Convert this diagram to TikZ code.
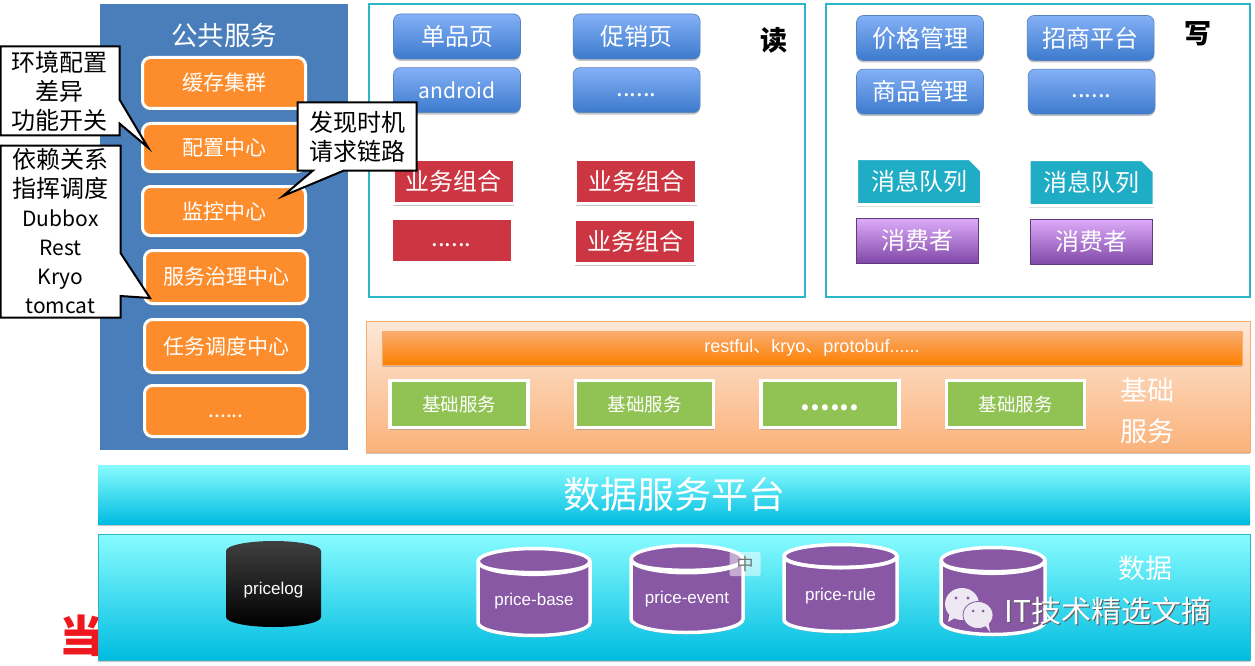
\documentclass[tikz,border=0pt]{standalone}
\usepackage{fontspec}
\setmainfont{Noto Sans CJK SC}
\newfontfamily\arialfont{Liberation Sans}
\definecolor{PanelBlue}{RGB}{74,126,187}
\definecolor{CardOrange}{RGB}{253,141,44}
\definecolor{FrameTeal}{RGB}{47,181,201}
\definecolor{BlueTop}{RGB}{132,176,246}
\definecolor{BlueBot}{RGB}{60,122,205}
\definecolor{BlueEdge}{RGB}{88,130,190}
\definecolor{CardRed}{RGB}{204,54,66}
\definecolor{QueueTeal}{RGB}{31,172,197}
\definecolor{VioletTop}{RGB}{222,172,250}
\definecolor{VioletBot}{RGB}{128,72,168}
\definecolor{VioletEdge}{RGB}{96,58,122}
\definecolor{PeachTop}{RGB}{254,232,216}
\definecolor{PeachBot}{RGB}{250,178,122}
\definecolor{PeachEdge}{RGB}{246,170,110}
\definecolor{BarTop}{RGB}{248,172,112}
\definecolor{BarBot}{RGB}{255,128,0}
\definecolor{CardGreen}{RGB}{145,195,84}
\definecolor{AquaTop}{RGB}{136,252,255}
\definecolor{AquaBot}{RGB}{0,188,224}
\definecolor{CanPurple}{RGB}{136,88,164}
\definecolor{LogoRed}{RGB}{238,24,30}
\definecolor{ChatLight}{RGB}{238,232,243}
\usetikzlibrary{positioning,calc,shapes.geometric,shapes.misc,shapes.callouts,shadows}
\newcommand{\lowdots}{\smash{\raisebox{-6pt}{......}}}
\newcommand{\cantext}[1]{\smash{\raisebox{-4pt}{#1}}}
\newcommand{\latinline}[1]{{\fontsize{21}{29}\selectfont #1}}
\tikzset{
  softshadow/.style={drop shadow={shadow xshift=0pt,shadow yshift=-2pt,opacity=.45}},
  px/.style={font=\fontsize{#1}{#1}\selectfont},
  orangecard/.style={draw=white,line width=3pt,fill=CardOrange,rounded corners=8pt,text=white,px=21,minimum width=163pt,softshadow},
  bluecard/.style={draw=BlueEdge,line width=.6pt,top color=BlueTop,bottom color=BlueBot,rounded corners=7pt,text=white,px=24,minimum width=127pt,minimum height=45pt,softshadow},
  redcard/.style={draw=white,line width=3pt,fill=CardRed,text=white,px=24,minimum width=121pt,minimum height=44pt,softshadow},
  queuecard/.style={chamfered rectangle,chamfered rectangle corners=north east,chamfered rectangle xsep=6pt,chamfered rectangle ysep=6pt,draw=white,line width=3pt,fill=QueueTeal,text=white,px=24,minimum width=125pt,minimum height=46pt,softshadow},
  violetcard/.style={draw=VioletEdge,line width=.6pt,top color=VioletTop,bottom color=VioletBot,text=white,px=24,minimum width=122pt,minimum height=45pt},
  greencard/.style={draw=white,line width=3.5pt,fill=CardGreen,text=white,px=18.5,minimum width=138pt,minimum height=47pt,softshadow},
  frame/.style={draw=FrameTeal,line width=2.4pt,fill=white},
  balloon/.style={rectangle callout,draw=black,line width=2pt,fill=white,align=center,inner sep=0pt,font=\fontsize{24}{29}\selectfont},
  can/.style={cylinder,anchor=shape center,shape border rotate=90,aspect=.3,draw=white,line width=3.5pt,fill=CanPurple,cylinder uses custom fill,cylinder body fill=CanPurple,cylinder end fill=CanPurple,text=white,font=\arialfont\fontsize{17}{20}\selectfont,minimum width=112pt,minimum height=87pt,softshadow},
}
\begin{document}
\begin{tikzpicture}[x=1pt,y=-1pt]
  \useasboundingbox (0,0) rectangle (1255,666);
  % shared services column
  \node[draw=white,line width=3.5pt,fill=PanelBlue,minimum width=251pt,minimum height=450pt,softshadow] (common) at (224,227) {};
  \node[text=white,px=26.5] (commontitle) at (224,35) {公共服务};
  \node[orangecard,minimum height=51pt] (cache) at (224,83) {缓存集群};
  \node[orangecard,minimum height=48pt,below=12pt of cache] (config) {配置中心};
  \node[orangecard,minimum height=49pt,below=12pt of config] (monitor) {监控中心};
  \node[orangecard,minimum height=53pt,below=12pt of monitor,xshift=2pt] (govern) {服务治理中心};
  \node[orangecard,minimum height=53pt,below=13pt of govern] (sched) {任务调度中心};
  \node[orangecard,minimum height=51pt,below=10pt of sched] (moreorange) {\lowdots};
  % read side
  \node[frame,minimum width=436pt,minimum height=293pt] (readbox) at (587,150.5) {};
  \node[font=\bfseries\fontsize{27}{30}\selectfont] (readlabel) at (774,40) {读};
  \node[bluecard] (item) at (457,36.5) {单品页};
  \node[bluecard,right=52pt of item] (promo) {促销页};
  \node[bluecard,below=8pt of item,px=21] (android) {android};
  \node[bluecard,below=8pt of promo] (moreblue) {\lowdots};
  \node[redcard] (biza) at (453.5,181.5) {业务组合};
  \node[redcard] (bizb) at (636,181.5) {业务组合};
  \node[redcard] (morered) at (451.5,240) {\lowdots};
  \node[redcard] (bizc) at (635,241.5) {业务组合};
  % write side
  \node[frame,minimum width=424pt,minimum height=293pt] (writebox) at (1038,150.5) {};
  \node[font=\bfseries\fontsize{27}{30}\selectfont] (writelabel) at (1198,34) {写};
  \node[bluecard] (price) at (920,38) {价格管理};
  \node[bluecard,right=43pt of price] (merchant) {招商平台};
  \node[bluecard,below=8pt of price] (goods) {商品管理};
  \node[bluecard,below=8pt of merchant,xshift=1pt] (morewrite) {\lowdots};
  \node[queuecard] (queuea) at (919,181.5) {消息队列};
  \node[queuecard] (queueb) at (1091.5,182.5) {消息队列};
  \node[violetcard] (consa) at (917,240.5) {消费者};
  \node[violetcard] (consb) at (1091.5,241.5) {消费者};
  % base services
  \node[draw=PeachEdge,line width=1pt,top color=PeachTop,bottom color=PeachBot,minimum width=884pt,minimum height=131pt,softshadow] (basebox) at (808,386.5) {};
  \node[draw=BarTop,line width=.6pt,top color=BarTop,bottom color=BarBot,text=white,font=\arialfont\fontsize{18}{20}\selectfont,minimum width=860pt,minimum height=34pt,softshadow] (rpcbar) at (812,348) {restful{\rmfamily 、}kryo{\rmfamily 、}protobuf......};
  \node[greencard] (basea) at (459,404) {基础服务};
  \node[greencard,right=44pt of basea] (baseb) {基础服务};
  \node[greencard,right=44pt of baseb,font=\bfseries\fontsize{28}{28}\selectfont] (basedots) {\lowdots};
  \node[greencard,right=44pt of basedots] (basec) {基础服务};
  \node[text=white,px=27] (baselabela) at (1147,390) {基础};
  \node[text=white,px=27] (baselabelb) at (1147,431) {服务};
  % logo goes under the data panel
  \node[text=LogoRed,font=\bfseries\fontsize{44}{44}\selectfont] (logo) at (81,636) {当};
  % data layers
  \node[draw=none,top color=AquaTop,bottom color=AquaBot,text=white,px=37,minimum width=1152pt,minimum height=59pt,softshadow] (platform) at (674,494.5) {数据服务平台};
  \node[draw=FrameTeal,line width=.8pt,top color=AquaTop,bottom color=AquaBot,minimum width=1152pt,minimum height=126pt,softshadow] (databox) at (674,597) {};
  \node[text=white,px=27] (datalabel) at (1145,568) {数据};
  \node[cylinder,anchor=shape center,shape border rotate=90,aspect=.3,draw=none,top color=black!75,middle color=black,bottom color=black,text=white,font=\arialfont\fontsize{17}{20}\selectfont,minimum width=95pt,minimum height=86pt] (pricelog) at (273.5,584) {\cantext{pricelog}};
  \node[can] (pricebase) at (534,592) {\cantext{price-base}};
  \node[can] (priceevent) at (687,589) {\cantext{price-event}};
  \node[can,minimum width=113pt] (pricerule) at (840.5,588) {\cantext{price-rule}};
  \node[can,minimum width=104pt] (pricemore) at (993,591) {\cantext{\phantom{price-main}}};
  \foreach \tank in {pricebase,priceevent,pricerule,pricemore}
    \draw[white,line width=3.5pt] ($(\tank.before top)!2pt!(\tank.after top)$) .. controls ($(\tank.before top)+(0,15)$) and ($(\tank.after top)+(0,15)$) .. ($(\tank.after top)!2pt!(\tank.before top)$);
  \node[draw=none,fill=white,opacity=.5,text opacity=1,rounded corners=2pt,text=black!55,px=17,minimum width=31pt,minimum height=24pt] (imebadge) at (745,564) {中};
  % watermark
  \fill[ChatLight] (950,612) -- (948,622) -- (958,616) -- cycle;
  \fill[ChatLight] (962,604) ellipse (17 and 16);
  \fill[CanPurple] (956,598) circle (1.6) (968,598) circle (1.6);
  \fill[ChatLight,draw=CanPurple,line width=.8pt] (978,615) ellipse (15 and 13.5);
  \fill[ChatLight] (984,624) -- (990,632) -- (988,620) -- cycle;
  \fill[CanPurple] (973,611) circle (1.5) (983,611) circle (1.5);
  \node[text=black!65,font=\fontsize{30}{32}\selectfont] (markshadow) at (1108.8,611.8) {IT技术精选文摘};
  \node[text=white,font=\fontsize{30}{32}\selectfont] (marktext) at (1108,611) {IT技术精选文摘};
  % callouts on top
  \node[balloon,minimum width=119pt,minimum height=89pt,callout pointer width=24pt,callout absolute pointer={([xshift=7pt]config.west)}] (envnote) at (60,91) {环境配置\\差异\\功能开关};
  \node[balloon,minimum width=120pt,minimum height=172pt,callout pointer width=43pt,callout absolute pointer={([xshift=7pt,yshift=7pt]govern.south west)}] (depnote) at (60.5,231.5) {依赖关系\\指挥调度\\\latinline{Dubbox}\\\latinline{Rest}\\\latinline{Kryo}\\\latinline{tomcat}};
  \node[balloon,minimum width=119pt,minimum height=68pt,callout pointer width=31pt,callout absolute pointer={([xshift=-24pt,yshift=15pt]monitor.east)}] (findnote) at (357,136.5) {发现时机\\请求链路};
\end{tikzpicture}
\end{document}
